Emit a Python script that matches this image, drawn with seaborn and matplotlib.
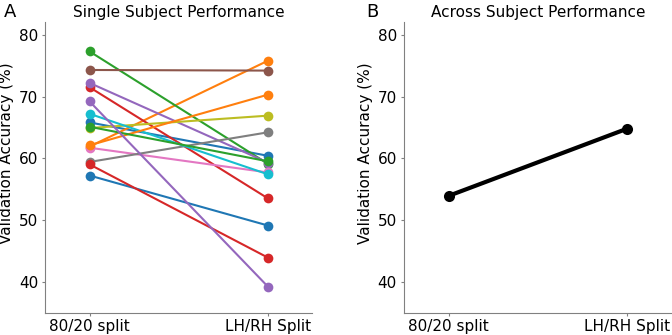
import numpy as np
import pandas as pd
import matplotlib
matplotlib.use('Agg')
import matplotlib.pyplot as plt
import seaborn as sns

sns.set_style('ticks')
plt.rcParams['font.family'] = ['DejaVu Sans']
plt.rcParams['text.color'] = 'black'
plt.rcParams['axes.labelcolor'] = 'black'

# Per-subject validation accuracy (%), tab10 colour order
splits = ['80/20 split', 'LH/RH Split']
acc_8020 = [65.8, 61.9, 77.3, 71.5, 72.2, 74.3, 61.7, 59.4, 64.9, 67.2, 57.2, 62.1, 65.1, 59.0, 69.2]
acc_lhrh = [60.4, 75.8, 59.1, 53.5, 59.3, 74.2, 57.7, 64.2, 66.9, 57.4, 49.1, 70.3, 59.5, 43.9, 39.2]

# Across subject performance
across_acc = [53.9, 64.8]

n = len(acc_8020)
single = pd.DataFrame({
    'subject': np.repeat(np.arange(n), 2),
    'split': splits * n,
    'acc': np.ravel(np.column_stack([acc_8020, acc_lhrh])),
})
across = pd.DataFrame({'split': splits, 'acc': across_acc})

fig = plt.figure(figsize=(6.72, 3.35), dpi=100)
ax1 = fig.add_axes([0.067, 0.067, 0.398, 0.866])
ax2 = fig.add_axes([0.601, 0.067, 0.399, 0.866])

pal = sns.color_palette('tab10', 10)
pal = [pal[i % 10] for i in range(n)]
sns.lineplot(data=single, x='split', y='acc', hue='subject', palette=pal,
             marker='o', markersize=7, markeredgewidth=0, linewidth=1.5,
             sort=False, legend=False, ax=ax1)

sns.lineplot(data=across, x='split', y='acc', color='black', marker='o',
             markersize=8, markeredgewidth=0, linewidth=3, sort=False,
             legend=False, ax=ax2)

for ax, title in [(ax1, 'Single Subject Performance'),
                  (ax2, 'Across Subject Performance')]:
    ax.set_xlim(-0.25, 1.25)
    ax.set_ylim(35, 82)
    ax.set_yticks([40, 50, 60, 70, 80])
    ax.set_xlabel('')
    ax.set_ylabel('Validation Accuracy (%)', fontsize=11)
    ax.yaxis.set_label_coords(-0.115, 0.55)
    ax.set_title(title, fontsize=11, pad=4, color='black')
    ax.tick_params(labelsize=11, color='#808080', labelcolor='black',
                   length=2.5, pad=2.5)
    sns.despine(ax=ax)
    for s in ['left', 'bottom']:
        ax.spines[s].set_color('#808080')

# panel letters
fig.text(0.006, 0.99, 'A', fontsize=13, va='top', ha='left')
fig.text(0.545, 0.99, 'B', fontsize=13, va='top', ha='left')

fig.savefig('out.png', dpi=100)
